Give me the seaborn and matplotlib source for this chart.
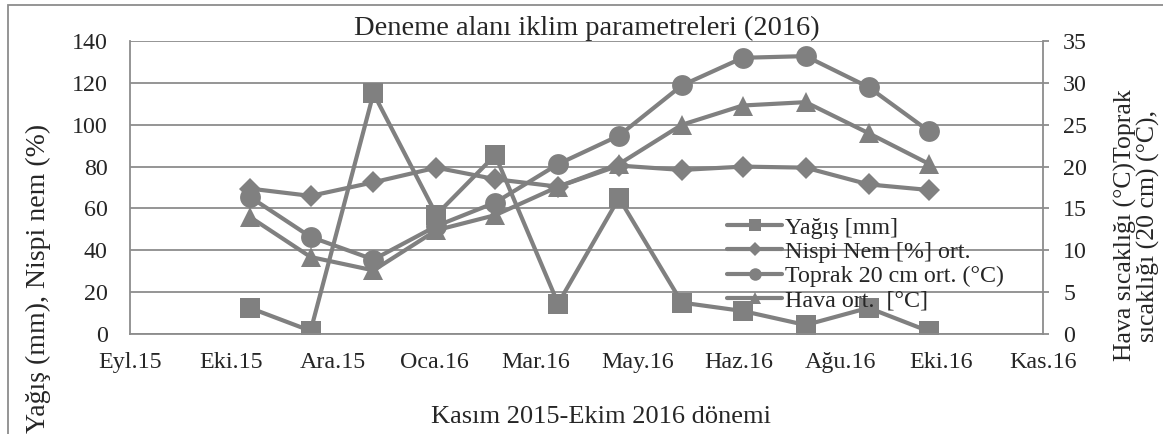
import pandas as pd
import matplotlib.pyplot as plt
from matplotlib.patches import Rectangle
import seaborn as sns

# monthly data, Nov 2015 - Oct 2016
months = ['2015-11-01', '2015-12-01', '2016-01-01', '2016-02-01', '2016-03-01', '2016-04-01',
          '2016-05-01', '2016-06-01', '2016-07-01', '2016-08-01', '2016-09-01', '2016-10-01']
yagis = [12.5, 1.5, 115, 57, 85.5, 14.5, 65, 15, 11, 4.3, 12.5, 1.2]
nispi_nem = [69.5, 66, 72.5, 79.5, 74, 70.4, 80.5, 78.4, 80, 79.5, 71.5, 68.8]
toprak = [16.4, 11.6, 8.9, 12.9, 15.7, 20.3, 23.7, 29.7, 33.0, 33.2, 29.5, 24.2]
hava = [14.0, 9.2, 7.6, 12.4, 14.2, 17.6, 20.3, 25.0, 27.3, 27.7, 24.0, 20.3]

tick_labels = ['Eyl.15', 'Eki.15', 'Ara.15', 'Oca.16', 'Mar.16', 'May.16',
               'Haz.16', 'Ağu.16', 'Eki.16', 'Kas.16']
axis_start = '2015-09-03'
tick_step_days = 50

df = pd.DataFrame({'tarih': pd.to_datetime(months), 'yagis': yagis, 'nem': nispi_nem,
                   'toprak': toprak, 'hava': hava})

sns.set_style('white')
plt.rcParams['font.family'] = ['Liberation Serif', 'DejaVu Serif']

grey = '#808080'
fig = plt.figure(figsize=(11.63, 4.34), dpi=100)
ax = fig.add_axes([0.1118, 0.2304, 0.785, 0.675])
ax2 = ax.twinx()

kw = dict(color=grey, linewidth=3.0, markeredgewidth=0)
sns.lineplot(data=df, x='tarih', y='yagis', marker='s', markersize=14.5, ax=ax, label='Yağış [mm]', **kw)
sns.lineplot(data=df, x='tarih', y='nem', marker='D', markersize=11.7, ax=ax, label='Nispi Nem [%] ort.', **kw)
sns.lineplot(data=df, x='tarih', y='toprak', marker='o', markersize=15, ax=ax2, label='Toprak 20 cm ort. (°C)', **kw)
sns.lineplot(data=df, x='tarih', y='hava', marker='^', markersize=14, ax=ax2, label='Hava ort.  [°C]', **kw)

start = pd.Timestamp(axis_start)
ticks = [start + pd.Timedelta(days=tick_step_days * i) for i in range(len(tick_labels))]
ax.set_xlim(ticks[0], ticks[-1])
ax.set_xticks(ticks)
ax.set_xticklabels(tick_labels)

ax.set_ylim(0, 140)
ax.set_yticks(range(0, 141, 20))
ax2.set_ylim(0, 35)
ax2.set_yticks(range(0, 36, 5))

ax.grid(axis='y', color='#8c8c8c', linewidth=1.3)
ax.grid(axis='x', visible=False)
ax.set_axisbelow(True)
for a in (ax, ax2):
    for s in a.spines.values():
        s.set_visible(False)
ax.spines['left'].set_visible(True)
ax.spines['bottom'].set_visible(True)
ax2.spines['right'].set_visible(True)
for s in (ax.spines['left'], ax.spines['bottom'], ax2.spines['right']):
    s.set_color('#8c8c8c')
    s.set_linewidth(1.3)

ax.tick_params(axis='x', length=0, pad=13, labelsize=17.3)
ax.tick_params(axis='y', length=0, pad=16, labelsize=17.3)
ax2.tick_params(axis='y', length=4.5, width=1.3, color='#8c8c8c', pad=10, labelsize=17.3)

ax.set_xlabel('Kasım 2015-Ekim 2016 dönemi', fontsize=19, va='center')
ax.xaxis.set_label_coords(0.516, -0.283)
ax.set_ylabel('Yağış (mm), Nispi nem (%)', fontsize=20, va='center', ha='center')
ax.yaxis.set_label_coords(-0.1008, 0.191)
ax2.set_ylabel('Hava sıcaklığı (°C)Toprak\nsıcaklığı (20 cm) (°C),', fontsize=18.5,
               rotation=90, va='center', ha='center', multialignment='center', linespacing=1.0)
ax2.yaxis.set_label_coords(1.103, 0.37)

ax.set_title('Deneme alanı iklim parametreleri (2016)', fontsize=20.5, pad=4)

h1, l1 = ax.get_legend_handles_labels()
h2, l2 = ax2.get_legend_handles_labels()
ax.get_legend().remove()
ax2.legend(h1 + h2, l1 + l2, loc='upper left', bbox_to_anchor=(0.654, 0.4), frameon=False,
           fontsize=17.3, markerscale=0.6, handlelength=2.3, handletextpad=0.12,
           labelspacing=0.1, borderpad=0, borderaxespad=0)

fig.add_artist(Rectangle((8 / 1163, -0.1), 1.2, 1.0885, transform=fig.transFigure,
                         fill=False, edgecolor='#8c8c8c', linewidth=1.3))

fig.savefig('out.png', dpi=100)
